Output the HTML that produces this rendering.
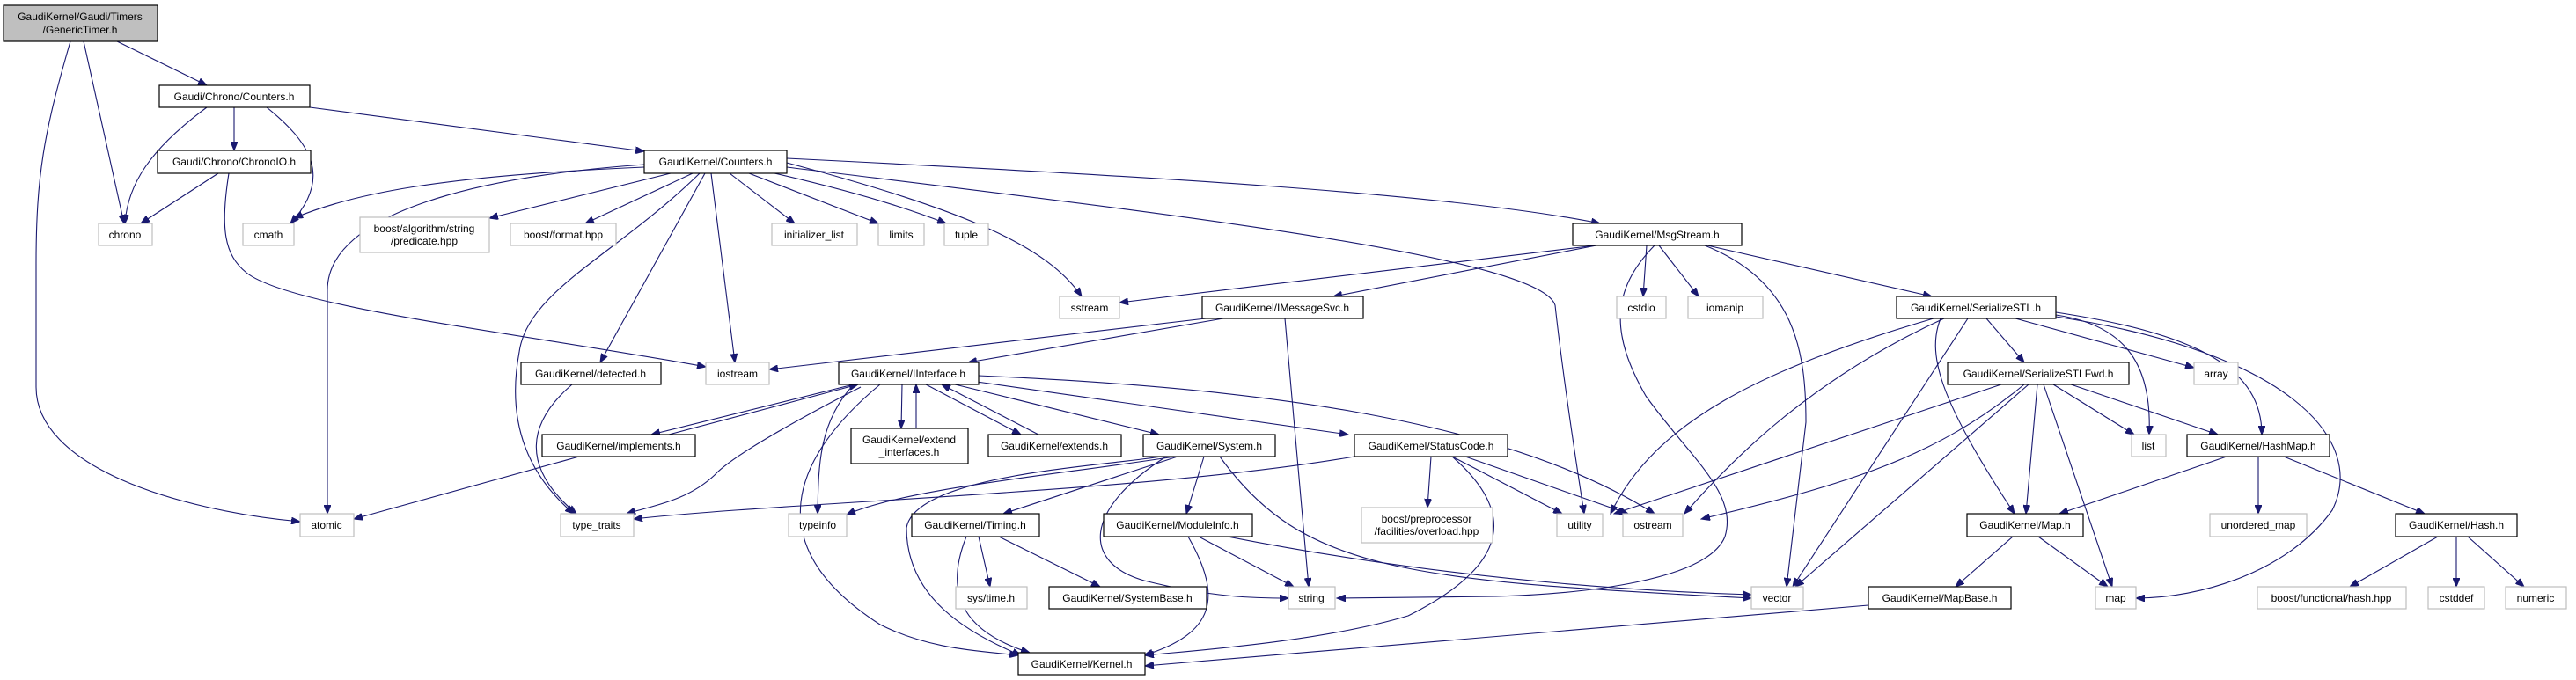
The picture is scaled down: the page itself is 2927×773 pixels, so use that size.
<!DOCTYPE html>
<html><head><meta charset="utf-8"><style>
html,body{margin:0;padding:0;background:#fff;}
svg{display:block}
text{font-family:"Liberation Sans",Arial,sans-serif;font-size:12px;fill:#000}
.e{fill:none;stroke:#191970;stroke-width:1.1}
.n{fill:#fff;stroke:#000;stroke-width:1.2}
.x{fill:#fff;stroke:#bfbfbf;stroke-width:1.2}
</style></head><body>
<svg width="2927" height="773" viewBox="0 0 2927 773" xmlns="http://www.w3.org/2000/svg">
<defs><marker id="a" markerUnits="userSpaceOnUse" markerWidth="11" markerHeight="8" refX="10" refY="4" orient="auto"><path d="M0,0 L10,4 L0,8 z" fill="#191970" stroke="#191970"/></marker></defs>
<g class="e" marker-end="url(#a)">
<path d="M133,47 L235,97"/>
<path d="M95,47 L141,254"/>
<path d="M80,47 C50,150 41,200 41,300 L41,440 C41,530 200,580 341,593"/>
<path d="M235,122 C170,170 145,210 142,254"/>
<path d="M266,122 L266,171"/>
<path d="M303,122 C350,160 380,200 330,254"/>
<path d="M352,122 L732,172"/>
<path d="M248,197 L160,254"/>
<path d="M260,197 C250,260 255,290 280,310 C330,350 600,380 802,417"/>
<path d="M732,190 C500,200 400,220 334,248"/>
<path d="M762,197 L556,248"/>
<path d="M787,197 L665,254"/>
<path d="M829,197 L903,254"/>
<path d="M851,197 L998,254"/>
<path d="M880,197 C980,220 1040,240 1075,254"/>
<path d="M894,185 C1100,240 1190,280 1229,337"/>
<path d="M894,190 C1300,240 1750,290 1767,347 C1775,420 1790,520 1800,584"/>
<path d="M894,180 C1300,200 1650,220 1818,254"/>
<path d="M808,197 L835,412"/>
<path d="M801,197 L682,412"/>
<path d="M795,197 C700,290 600,330 590,400 C575,480 600,540 652,584"/>
<path d="M732,187 C550,200 372,240 372,330 L372,584"/>
<path d="M1813,279 L1272,344"/>
<path d="M1814,279 L1515,337"/>
<path d="M1871,279 L1867,337"/>
<path d="M1885,279 L1930,337"/>
<path d="M1940,279 L2195,337"/>
<path d="M1880,279 C1830,330 1830,380 1870,450 C1920,520 1975,560 1960,610 C1940,660 1800,675 1700,678 L1519,680"/>
<path d="M1937,279 C2040,320 2052,400 2052,480 L2030,667"/>
<path d="M1370,362 L874,420"/>
<path d="M1390,362 L1100,412"/>
<path d="M1460,362 L1487,667"/>
<path d="M970,437 L740,494"/>
<path d="M760,494 L975,437"/>
<path d="M1025,437 L1024,487"/>
<path d="M1041,487 L1041,437"/>
<path d="M1052,437 L1160,494"/>
<path d="M1180,494 L1070,437"/>
<path d="M1085,437 L1317,494"/>
<path d="M1110,434 L1532,494"/>
<path d="M1112,427 C1400,440 1700,470 1880,584"/>
<path d="M978,440 C900,480 830,520 812,540 C780,570 740,575 712,584"/>
<path d="M970,437 C930,480 930,530 929,584"/>
<path d="M1000,437 C900,520 860,620 1000,710 C1060,740 1120,740 1157,745"/>
<path d="M658,519 L402,590"/>
<path d="M650,437 C600,480 590,530 655,584"/>
<path d="M1539,519 C1300,560 900,570 720,590"/>
<path d="M1626,519 L1622,577"/>
<path d="M1650,519 L1775,584"/>
<path d="M1665,519 L1850,584"/>
<path d="M1650,519 C1720,580 1720,640 1600,700 C1500,730 1350,740 1301,745"/>
<path d="M1320,519 C1250,530 1040,540 1030,600 C1030,680 1100,720 1160,745"/>
<path d="M1338,519 L1140,584"/>
<path d="M1325,519 C1230,580 1230,640 1300,660 C1380,680 1430,680 1464,680"/>
<path d="M1368,519 L1348,584"/>
<path d="M1386,519 C1480,650 1600,660 1990,680"/>
<path d="M1335,519 C1200,540 1030,555 962,585"/>
<path d="M1112,610 L1125,667"/>
<path d="M1135,610 L1250,667"/>
<path d="M1098,610 C1070,680 1100,720 1170,742"/>
<path d="M1362,610 L1470,667"/>
<path d="M1350,610 C1390,680 1380,720 1300,745"/>
<path d="M1395,610 C1600,650 1800,670 1990,676"/>
<path d="M2123,688 L1301,757"/>
<path d="M2257,362 L2300,412"/>
<path d="M2290,362 L2493,418"/>
<path d="M2336,358 C2420,370 2445,420 2442,494"/>
<path d="M2336,355 C2500,380 2570,420 2570,494"/>
<path d="M2336,360 C2600,400 2690,500 2650,580 C2600,650 2500,680 2427,680"/>
<path d="M2205,362 C2190,400 2200,450 2289,584"/>
<path d="M2236,362 L2037,667"/>
<path d="M2197,362 C2000,420 1880,480 1830,584"/>
<path d="M2209,362 C2060,430 1970,520 1914,584"/>
<path d="M2274,437 L1834,584"/>
<path d="M2300,437 C2200,520 2100,550 1933,590"/>
<path d="M2305,437 L2040,667"/>
<path d="M2315,437 L2302,584"/>
<path d="M2322,437 L2400,667"/>
<path d="M2333,437 L2425,494"/>
<path d="M2353,437 L2520,494"/>
<path d="M2530,519 L2340,584"/>
<path d="M2566,519 L2566,584"/>
<path d="M2595,519 L2755,584"/>
<path d="M2287,610 L2222,667"/>
<path d="M2316,610 L2395,667"/>
<path d="M2770,610 L2670,667"/>
<path d="M2791,610 L2791,667"/>
<path d="M2804,610 L2868,667"/>
</g>
<g>
<rect x="4" y="6" width="175" height="41" fill="#bfbfbf" stroke="#000" stroke-width="1.2"/>
<text x="91" y="23" text-anchor="middle">GaudiKernel/Gaudi/Timers</text>
<text x="91" y="38" text-anchor="middle">/GenericTimer.h</text>

<rect class="n" x="181" y="97" width="171" height="25"/><text x="266" y="114" text-anchor="middle">Gaudi/Chrono/Counters.h</text>
<rect class="n" x="179" y="171" width="174" height="26"/><text x="266" y="188" text-anchor="middle">Gaudi/Chrono/ChronoIO.h</text>
<rect class="x" x="112" y="254" width="61" height="25"/><text x="142" y="271" text-anchor="middle">chrono</text>
<rect class="x" x="276" y="254" width="58" height="25"/><text x="305" y="271" text-anchor="middle">cmath</text>
<rect class="x" x="409" y="247" width="147" height="40"/><text x="482" y="264" text-anchor="middle">boost/algorithm/string</text><text x="482" y="278" text-anchor="middle">/predicate.hpp</text>
<rect class="x" x="580" y="254" width="120" height="25"/><text x="640" y="271" text-anchor="middle">boost/format.hpp</text>
<rect class="x" x="877" y="254" width="97" height="25"/><text x="925" y="271" text-anchor="middle">initializer_list</text>
<rect class="n" x="732" y="171" width="162" height="26"/><text x="813" y="188" text-anchor="middle">GaudiKernel/Counters.h</text>
<rect class="x" x="998" y="254" width="52" height="25"/><text x="1024" y="271" text-anchor="middle">limits</text>
<rect class="x" x="1073" y="254" width="50" height="25"/><text x="1098" y="271" text-anchor="middle">tuple</text>
<rect class="n" x="1787" y="254" width="192" height="25"/><text x="1883" y="271" text-anchor="middle">GaudiKernel/MsgStream.h</text>
<rect class="x" x="1204" y="337" width="68" height="25"/><text x="1238" y="354" text-anchor="middle">sstream</text>
<rect class="n" x="1366" y="337" width="183" height="25"/><text x="1457" y="354" text-anchor="middle">GaudiKernel/IMessageSvc.h</text>
<rect class="x" x="1837" y="337" width="56" height="25"/><text x="1865" y="354" text-anchor="middle">cstdio</text>
<rect class="x" x="1918" y="337" width="85" height="25"/><text x="1960" y="354" text-anchor="middle">iomanip</text>
<rect class="n" x="2155" y="337" width="181" height="25"/><text x="2245" y="354" text-anchor="middle">GaudiKernel/SerializeSTL.h</text>
<rect class="n" x="592" y="412" width="159" height="25"/><text x="671" y="429" text-anchor="middle">GaudiKernel/detected.h</text>
<rect class="x" x="802" y="412" width="72" height="25"/><text x="838" y="429" text-anchor="middle">iostream</text>
<rect class="n" x="953" y="412" width="159" height="25"/><text x="1032" y="429" text-anchor="middle">GaudiKernel/IInterface.h</text>
<rect class="n" x="616" y="494" width="174" height="25"/><text x="703" y="511" text-anchor="middle">GaudiKernel/implements.h</text>
<rect class="x" x="341" y="584" width="61" height="26"/><text x="371" y="601" text-anchor="middle">atomic</text>
<rect class="x" x="637" y="584" width="83" height="26"/><text x="678" y="601" text-anchor="middle">type_traits</text>
<rect class="x" x="896" y="584" width="66" height="26"/><text x="929" y="601" text-anchor="middle">typeinfo</text>
<rect class="n" x="967" y="487" width="133" height="40"/><text x="1033" y="504" text-anchor="middle">GaudiKernel/extend</text><text x="1033" y="518" text-anchor="middle">_interfaces.h</text>
<rect class="n" x="1123" y="494" width="151" height="25"/><text x="1198" y="511" text-anchor="middle">GaudiKernel/extends.h</text>
<rect class="n" x="1299" y="494" width="150" height="25"/><text x="1374" y="511" text-anchor="middle">GaudiKernel/System.h</text>
<rect class="n" x="1539" y="494" width="174" height="25"/><text x="1626" y="511" text-anchor="middle">GaudiKernel/StatusCode.h</text>
<rect class="n" x="1036" y="584" width="145" height="26"/><text x="1108" y="601" text-anchor="middle">GaudiKernel/Timing.h</text>
<rect class="n" x="1254" y="584" width="169" height="26"/><text x="1338" y="601" text-anchor="middle">GaudiKernel/ModuleInfo.h</text>
<rect class="x" x="1547" y="577" width="149" height="40"/><text x="1621" y="594" text-anchor="middle">boost/preprocessor</text><text x="1621" y="608" text-anchor="middle">/facilities/overload.hpp</text>
<rect class="x" x="1769" y="584" width="52" height="26"/><text x="1795" y="601" text-anchor="middle">utility</text>
<rect class="x" x="1844" y="584" width="68" height="26"/><text x="1878" y="601" text-anchor="middle">ostream</text>
<rect class="x" x="1086" y="667" width="81" height="25"/><text x="1126" y="684" text-anchor="middle">sys/time.h</text>
<rect class="n" x="1192" y="667" width="179" height="25"/><text x="1281" y="684" text-anchor="middle">GaudiKernel/SystemBase.h</text>
<rect class="x" x="1464" y="667" width="53" height="25"/><text x="1490" y="684" text-anchor="middle">string</text>
<rect class="n" x="1157" y="742" width="144" height="25"/><text x="1229" y="759" text-anchor="middle">GaudiKernel/Kernel.h</text>
<rect class="n" x="2213" y="412" width="206" height="25"/><text x="2316" y="429" text-anchor="middle">GaudiKernel/SerializeSTLFwd.h</text>
<rect class="x" x="2493" y="412" width="50" height="25"/><text x="2518" y="429" text-anchor="middle">array</text>
<rect class="x" x="2422" y="494" width="39" height="25"/><text x="2441" y="511" text-anchor="middle">list</text>
<rect class="n" x="2485" y="494" width="162" height="25"/><text x="2566" y="511" text-anchor="middle">GaudiKernel/HashMap.h</text>
<rect class="n" x="2235" y="584" width="132" height="26"/><text x="2301" y="601" text-anchor="middle">GaudiKernel/Map.h</text>
<rect class="x" x="2511" y="584" width="110" height="26"/><text x="2566" y="601" text-anchor="middle">unordered_map</text>
<rect class="n" x="2722" y="584" width="138" height="26"/><text x="2791" y="601" text-anchor="middle">GaudiKernel/Hash.h</text>
<rect class="x" x="1990" y="667" width="59" height="25"/><text x="2019" y="684" text-anchor="middle">vector</text>
<rect class="n" x="2123" y="667" width="162" height="25"/><text x="2204" y="684" text-anchor="middle">GaudiKernel/MapBase.h</text>
<rect class="x" x="2381" y="667" width="46" height="25"/><text x="2404" y="684" text-anchor="middle">map</text>
<rect class="x" x="2565" y="667" width="169" height="25"/><text x="2649" y="684" text-anchor="middle">boost/functional/hash.hpp</text>
<rect class="x" x="2759" y="667" width="64" height="25"/><text x="2791" y="684" text-anchor="middle">cstddef</text>
<rect class="x" x="2847" y="667" width="69" height="25"/><text x="2881" y="684" text-anchor="middle">numeric</text>
</g>
</svg>
</body></html>
